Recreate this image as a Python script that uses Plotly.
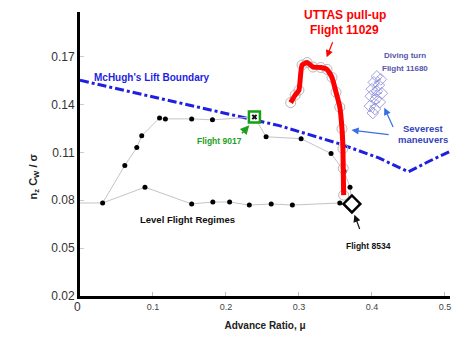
import plotly.graph_objects as go

# Level flight regime sweep (lower branch)
mu_level = [0.0, 0.031, 0.089, 0.153, 0.182, 0.205, 0.232, 0.262, 0.291, 0.356, 0.3726]
cw_level = [0.0783, 0.0783, 0.0882, 0.0777, 0.0789, 0.0789, 0.0770, 0.0777, 0.0770, 0.0783, 0.0777]

# Upper branch of the level flight regimes
mu_upper = [0.031, 0.0614, 0.0778, 0.0846, 0.109, 0.117, 0.153, 0.1815, 0.239, 0.255, 0.303, 0.344, 0.362, 0.370, 0.3726]
cw_upper = [0.0783, 0.1018, 0.1130, 0.1204, 0.1316, 0.1310, 0.1310, 0.1304, 0.1322, 0.1198, 0.1186, 0.1093, 0.0981, 0.0882, 0.0777]

# UTTAS pull-up, Flight 11029
mu_uttas = [0.2887, 0.2948, 0.300, 0.3043, 0.3112, 0.3194, 0.330, 0.3385, 0.3453, 0.3508, 0.356, 0.359, 0.3603, 0.3607, 0.3613]
cw_uttas = [0.1412, 0.1459, 0.1490, 0.1648, 0.1663, 0.1635, 0.1632, 0.1620, 0.1570, 0.1477, 0.1384, 0.1248, 0.1124, 0.1000, 0.0832]

# Diving turn, Flight 11680
mu_dive = [0.4067, 0.4122, 0.4026, 0.4094, 0.3999, 0.4067, 0.4135, 0.3985, 0.4053, 0.4108, 0.3972, 0.4040, 0.4012]
cw_dive = [0.1576, 0.1558, 0.1539, 0.1521, 0.1496, 0.1483, 0.1471, 0.1452, 0.1434, 0.1415, 0.1390, 0.1372, 0.1347]

# McHugh's lift boundary
mu_mchugh = [0.0, 0.0955, 0.2047, 0.273, 0.3549, 0.4094, 0.434, 0.4504, 0.4777, 0.5073]
cw_mchugh = [0.1552, 0.1454, 0.1341, 0.1268, 0.1155, 0.1066, 0.1012, 0.0979, 0.1043, 0.1107]

# Single flight points
mu_9017, cw_9017 = [0.239], [0.1322]
mu_8534, cw_8534 = [0.3726], [0.0777]

x_ticks = [0.1, 0.2, 0.3, 0.4, 0.5]
y_ticks = [0.02, 0.05, 0.08, 0.11, 0.14, 0.17]

FONT = "Liberation Sans, Arial, sans-serif"
GRAY = "#c4c4c4"

fig = go.Figure()

fig.add_trace(go.Scatter(x=mu_mchugh, y=cw_mchugh, mode="lines",
                         line=dict(color="#1f1fe0", width=3, dash="dashdot")))
fig.add_trace(go.Scatter(x=mu_level, y=cw_level, mode="lines",
                         line=dict(color=GRAY, width=1)))
fig.add_trace(go.Scatter(x=mu_upper, y=cw_upper, mode="lines",
                         line=dict(color=GRAY, width=1)))
fig.add_trace(go.Scatter(x=mu_level[1:-1], y=cw_level[1:-1], mode="markers",
                         marker=dict(color="black", size=5)))
fig.add_trace(go.Scatter(x=mu_upper[1:-1], y=cw_upper[1:-1], mode="markers",
                         marker=dict(color="black", size=5)))

# Pull-up: gray open circles under a thick red trace
fig.add_trace(go.Scatter(x=mu_uttas, y=cw_uttas, mode="markers",
                         marker=dict(symbol="circle-open", color="#b8b8b8", size=10,
                                     line=dict(width=1))))
fig.add_trace(go.Scatter(x=mu_uttas, y=cw_uttas, mode="lines",
                         line=dict(color="#ff0000", width=5, shape="spline", smoothing=0.5)))

# Diving turn cluster
fig.add_trace(go.Scatter(x=mu_dive, y=cw_dive, mode="lines+markers",
                         line=dict(color="#a0a0dd", width=0.8),
                         marker=dict(symbol="diamond-open", color="#8a8ad8", size=9,
                                     line=dict(width=0.8))))

fig.add_trace(go.Scatter(x=mu_9017, y=cw_9017, mode="markers",
                         marker=dict(symbol="square", color="white", size=11,
                                     line=dict(color="#13a013", width=2.5))))
fig.add_trace(go.Scatter(x=mu_9017, y=cw_9017, mode="markers",
                         marker=dict(symbol="x", color="#111", size=5)))
fig.add_trace(go.Scatter(x=mu_8534, y=cw_8534, mode="markers",
                         marker=dict(symbol="diamond", color="white", size=13,
                                     line=dict(color="black", width=2.5))))

ann = []


def label(x, y, text, color, size, **kw):
    ann.append(dict(x=x, y=y, xref="x", yref="y", text=text, showarrow=False,
                    font=dict(family=FONT, size=size, color=color), **kw))


def arrow(x, y, ax, ay, color, width=1.2):
    ann.append(dict(x=x, y=y, ax=ax, ay=ay, xref="x", yref="y", axref="x", ayref="y",
                    text="", showarrow=True, arrowhead=2, arrowsize=1.2,
                    arrowwidth=width, arrowcolor=color))


label(0.0164, 0.1572, "<b>McHugh's Lift Boundary</b>", "#1f1fe0", 10, xanchor="left")
label(0.363, 0.1962, "<b>UTTAS pull-up</b>", "#ff0000", 12)
label(0.363, 0.1868, "<b>Flight 11029</b>", "#ff0000", 12)
arrow(0.338, 0.1696, 0.347, 0.1800, "#ff0000")
label(0.445, 0.1705, "<b>Diving turn</b>", "#5555aa", 8)
label(0.445, 0.1625, "<b>Flight 11680</b>", "#5555aa", 8)
label(0.470, 0.1248, "<b>Severest</b>", "#3344bb", 9.5)
label(0.470, 0.1180, "<b>maneuvers</b>", "#3344bb", 9.5)
label(0.191, 0.1170, "<b>Flight 9017</b>", "#1ea01e", 8.5)
label(0.147, 0.0677, "<b>Level Flight Regimes</b>", "#111", 9.5)
label(0.396, 0.0515, "<b>Flight 8534</b>", "#111", 8.5)

arrow(0.372, 0.1240, 0.425, 0.1210, "#3a6fe8")
arrow(0.417, 0.1380, 0.430, 0.1250, "#3a6fe8")
arrow(0.232, 0.1270, 0.220, 0.1210, "#1ea01e", width=1.5)
arrow(0.376, 0.0710, 0.384, 0.0610, "#111")

# origin label and rotated y-axis title
ann.append(dict(x=-0.008, y=-0.038, xref="paper", yref="paper", showarrow=False,
                xanchor="center", yanchor="middle",
                text="0", font=dict(family=FONT, size=12, color="#333")))
ann.append(dict(x=-0.125, y=0.42, xref="paper", yref="paper", showarrow=False,
                xanchor="center", yanchor="middle",
                text="<b>n<sub>z</sub> C<sub>W</sub> / σ</b>", textangle=-90,
                font=dict(family=FONT, size=11, color="#222")))

fig.update_layout(
    width=457, height=337,
    margin=dict(l=80, r=6, t=12, b=38),
    paper_bgcolor="white", plot_bgcolor="white",
    showlegend=False,
    font=dict(family=FONT, color="#333"),
    annotations=ann,
    xaxis=dict(range=[0, 0.507], tickvals=x_ticks, ticktext=[str(v) for v in x_ticks],
               showgrid=False, zeroline=False, showline=True, linecolor="black",
               linewidth=3, ticks="inside", ticklen=4, tickcolor="#bbb",
               tickfont=dict(size=9, color="#444"),
               title=dict(text="<b>Advance Ratio, μ</b>", font=dict(size=10, color="#222"),
                          standoff=12)),
    yaxis=dict(range=[0.02, 0.198], tickvals=y_ticks, ticktext=[f"{v:.2f}" for v in y_ticks],
               showgrid=False, zeroline=False, showline=True, linecolor="black",
               linewidth=3, ticks="inside", ticklen=4, tickcolor="#ccc",
               tickfont=dict(size=12, color="#333")),
)

fig.write_html("out.html")
